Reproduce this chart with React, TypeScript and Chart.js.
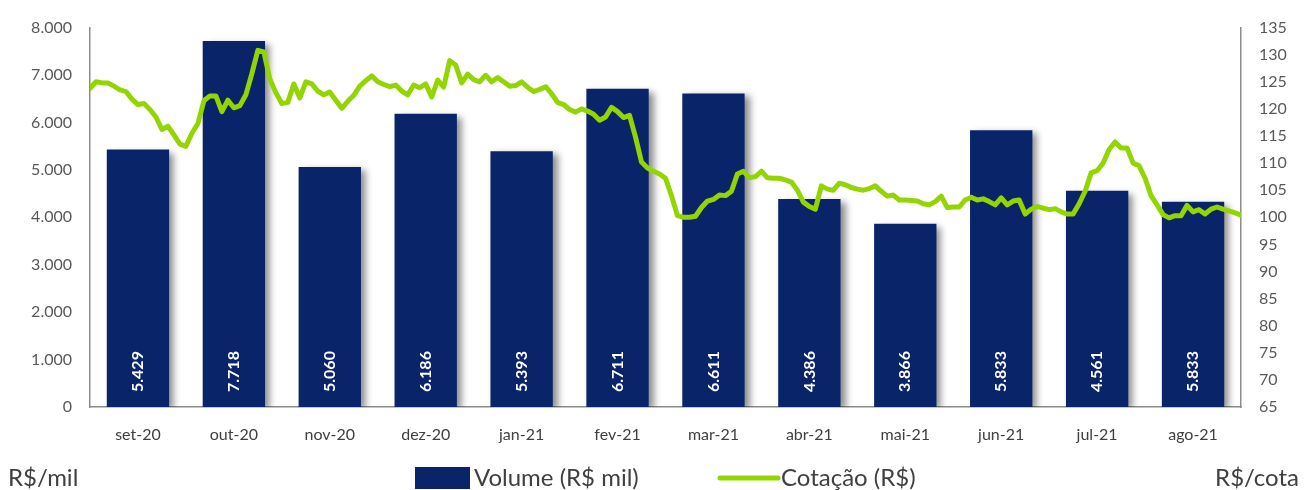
import React, { useEffect, useRef } from "react";
import { Chart, registerables } from "chart.js";

Chart.register(...registerables);

const months = ["set-20", "out-20", "nov-20", "dez-20", "jan-21", "fev-21", "mar-21", "abr-21", "mai-21", "jun-21", "jul-21", "ago-21"];
const volume = [5429, 7718, 5060, 6186, 5393, 6711, 6611, 4386, 3866, 5833, 4561, 4330];
const volumeLabels = [5429, 7718, 5060, 6186, 5393, 6711, 6611, 4386, 3866, 5833, 4561, 5833];
const leftTicks = { min: 0, max: 8000, step: 1000 };
const rightTicks = { min: 65, max: 135, step: 5 };
const cotacao = [
  123.8, 125.0, 124.8, 124.8, 124.2, 123.5, 123.2, 121.8, 120.8, 121.0,
  119.9, 118.5, 116.2, 116.8, 115.2, 113.5, 113.1, 115.5, 117.3, 121.5,
  122.4, 122.4, 119.5, 121.6, 120.2, 120.6, 122.6, 126.5, 130.8, 130.5,
  125.5, 123.0, 121.0, 121.2, 124.6, 122.0, 125.0, 124.6, 123.3, 122.6,
  123.1, 121.6, 120.1, 121.4, 122.5, 124.2, 125.2, 126.1, 125.0, 124.5,
  124.1, 124.4, 123.3, 122.6, 124.4, 123.9, 124.6, 122.2, 125.3, 124.0,
  128.9, 128.1, 124.8, 126.4, 125.4, 125.0, 126.2, 125.0, 125.8, 125.0,
  124.2, 124.3, 125.0, 124.0, 123.2, 123.6, 124.1, 122.8, 121.2, 120.8,
  119.9, 119.4, 120.0, 119.6, 119.0, 117.9, 118.5, 120.3, 119.5, 118.4,
  118.8, 114.8, 110.2, 109.1, 108.5, 108.0, 107.2, 104.0, 100.3, 100.0,
  100.0, 100.2, 101.8, 103.0, 103.3, 104.1, 104.0, 104.8, 108.0, 108.5,
  107.3, 107.5, 108.5, 107.3, 107.2, 107.2, 106.9, 106.5, 105.0, 102.8,
  102.0, 101.5, 105.8, 105.2, 105.0, 106.3, 106.0, 105.5, 105.2, 105.0,
  105.3, 105.8, 104.8, 103.9, 104.1, 103.2, 103.2, 103.1, 103.0, 102.5,
  102.3, 102.9, 103.9, 101.8, 101.9, 101.9, 103.2, 103.7, 103.2, 103.4,
  102.9, 102.3, 103.6, 102.3, 103.0, 103.2, 100.6, 101.5, 102.0, 101.7,
  101.4, 101.6, 101.0, 100.6, 100.6, 102.5, 104.8, 108.2, 108.6, 110.0,
  112.5, 113.9, 112.8, 112.8, 110.0, 109.5, 107.2, 104.0, 102.3, 100.5,
  99.9, 100.3, 100.3, 102.2, 101.0, 101.4, 100.6, 101.5, 101.9, 101.5,
  101.2, 100.8, 100.4,
];

const BAR_COLOR = "#0A246A";
const LINE_COLOR = "#93D500";
const FONT = "Lato";

const fmt = (n: number) => String(n).replace(/\B(?=(\d{3})+(?!\d))/g, ".");

const barShadow = {
  id: "barShadow",
  beforeDatasetDraw(chart: any, args: any) {
    if (args.meta.type !== "bar") return;
    const ctx = chart.ctx;
    ctx.save();
    ctx.shadowColor = "rgba(0,0,0,0.45)";
    ctx.shadowBlur = 7;
    ctx.shadowOffsetX = 5;
    ctx.shadowOffsetY = 3;
  },
  afterDatasetDraw(chart: any, args: any) {
    if (args.meta.type !== "bar") return;
    chart.ctx.restore();
  },
};

const barLabels = {
  id: "barLabels",
  afterDatasetsDraw(chart: any) {
    const meta = chart.getDatasetMeta(0);
    const ctx = chart.ctx;
    ctx.save();
    ctx.font = `bold 16px ${FONT}`;
    ctx.fillStyle = "#FFFFFF";
    ctx.textAlign = "left";
    ctx.textBaseline = "middle";
    meta.data.forEach((bar: any, i: number) => {
      ctx.save();
      ctx.translate(bar.x, bar.base - 15);
      ctx.rotate(-Math.PI / 2);
      ctx.fillText(fmt(volumeLabels[i]), 0, 0);
      ctx.restore();
    });
    ctx.restore();
  },
};

const legendPlugin = {
  id: "customLegend",
  afterDraw(chart: any) {
    const ctx = chart.ctx;
    const y = 478;
    ctx.save();
    ctx.font = `24px ${FONT}`;
    ctx.fillStyle = "#404040";
    ctx.textBaseline = "middle";
    ctx.textAlign = "left";
    ctx.fillText("R$/mil", 8, y);
    ctx.fillStyle = BAR_COLOR;
    ctx.fillRect(415, y - 11, 55, 22);
    ctx.fillStyle = "#404040";
    ctx.fillText("Volume (R$ mil)", 474, y);
    ctx.strokeStyle = LINE_COLOR;
    ctx.lineWidth = 5;
    ctx.lineCap = "round";
    ctx.beginPath();
    ctx.moveTo(720, y);
    ctx.lineTo(778, y);
    ctx.stroke();
    ctx.fillText("Cotação (R$)", 781, y);
    ctx.textAlign = "right";
    ctx.fillText("R$/cota", 1299, y);
    ctx.restore();
  },
};

export default function App() {
  const ref = useRef<HTMLCanvasElement>(null);
  useEffect(() => {
    if (!ref.current) return;
    const chart = new Chart(ref.current, {
      type: "bar",
      data: {
        labels: months,
        datasets: [
          {
            type: "bar",
            label: "Volume (R$ mil)",
            data: volume,
            backgroundColor: BAR_COLOR,
            barPercentage: 0.65,
            categoryPercentage: 1.0,
            grouped: false,
            yAxisID: "y",
            xAxisID: "x",
            order: 1,
          },
          {
            type: "line",
            label: "Cotação (R$)",
            data: cotacao.map((v, i) => ({ x: i, y: v })),
            borderColor: LINE_COLOR,
            borderWidth: 5,
            pointRadius: 0,
            tension: 0,
            borderJoinStyle: "round",
            borderCapStyle: "round",
            yAxisID: "y1",
            xAxisID: "xl",
            order: 0,
          } as any,
        ],
      },
      options: {
        responsive: false,
        animation: false,
        layout: { padding: { top: 22, left: 0, right: 0, bottom: 0 } },
        plugins: { legend: { display: false }, tooltip: { enabled: false } },
        scales: {
          x: {
            type: "category",
            offset: true,
            grid: { display: false, drawTicks: false, offset: true },
            border: { display: true, color: "#8C8C8C", width: 1.5 },
            ticks: { padding: 18, color: "#404040", font: { family: FONT, size: 16 } },
            afterFit: (s: any) => { s.height = 83; },
          },
          xl: {
            type: "linear",
            display: false,
            offset: false,
            grid: { offset: false },
            min: 0,
            max: cotacao.length - 1,
          },
          y: {
            position: "left",
            min: leftTicks.min,
            max: leftTicks.max,
            grid: { display: false, drawTicks: false },
            border: { display: true, color: "#8C8C8C", width: 1.5 },
            ticks: {
              stepSize: leftTicks.step,
              padding: 18,
              color: "#595959",
              font: { family: FONT, size: 16 },
              callback: (v: any) => fmt(Number(v)),
            },
            afterFit: (s: any) => { s.width = 90; },
          },
          y1: {
            position: "right",
            min: rightTicks.min,
            max: rightTicks.max,
            grid: { display: false, drawTicks: false },
            border: { display: true, color: "#8C8C8C", width: 1.5 },
            ticks: {
              stepSize: rightTicks.step,
              padding: 18,
              color: "#595959",
              font: { family: FONT, size: 16 },
            },
            afterFit: (s: any) => { s.width = 66; },
          },
        },
      } as any,
      plugins: [barShadow, barLabels, legendPlugin],
    });
    return () => chart.destroy();
  }, []);
  return (
    <div style={{ position: "fixed", left: 0, top: 0, width: 1307, height: 490, background: "#fff" }}>
      <canvas ref={ref} width={1307} height={490} />
    </div>
  );
}
